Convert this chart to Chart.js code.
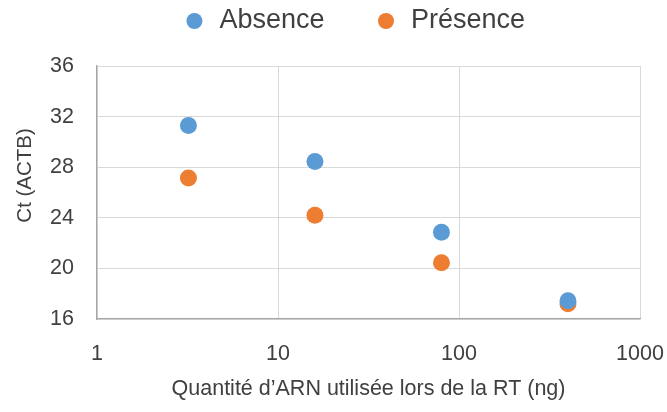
<!DOCTYPE html>
<html><head><meta charset="utf-8">
<script src="https://cdn.jsdelivr.net/npm/chart.js@4"></script>
<style>html,body{margin:0;padding:0;background:#fff;} canvas{display:block;}</style>
</head><body>
<canvas id="c" width="667" height="412"></canvas>
<script>
const xValues = [3.2, 16, 80, 400];
const absence = [31.3, 28.45, 22.85, 17.45];
const presence = [27.15, 24.2, 20.45, 17.2];
const seriesNames = ['Absence', 'Présence'];
const seriesColors = ['#5B9BD5', '#ED7D31'];
const xTicks = [1, 10, 100, 1000];
const yTicks = [16, 20, 24, 28, 32, 36];
const xTitle = 'Quantité d’ARN utilisée lors de la RT (ng)';
const yTitle = 'Ct (ACTB)';

const FONT = "'Liberation Sans', Arial, sans-serif";
const TEXT = '#404040';
const toPoints = ys => xValues.map((x, i) => ({ x: x, y: ys[i] }));

// place the legend row like the original (centered at x≈354, y≈21)
const legendPlace = {
  id: 'legendPlace',
  afterLayout(chart) {
    const l = chart.legend;
    if (!l) return;
    const dx = 354 - (l.left + l.right) / 2;
    l.left += dx; l.right += dx;
    l.top -= 21.5; l.bottom -= 21.5;
  }
};

const mk = (i, ys) => ({
  label: seriesNames[i], data: toPoints(ys),
  backgroundColor: seriesColors[i], borderColor: seriesColors[i],
  pointRadius: 8.5, pointHoverRadius: 8.5, pointBorderWidth: 0, showLine: false
});

new Chart(document.getElementById('c'), {
  type: 'scatter',
  data: { datasets: [mk(0, absence), mk(1, presence)] },
  plugins: [legendPlace],
  options: {
    responsive: false, animation: false, devicePixelRatio: 1,
    layout: { padding: { top: -21, left: 0, right: 27, bottom: 0 } },
    plugins: {
      legend: {
        position: 'top',
        labels: { usePointStyle: true, pointStyle: 'circle', boxWidth: 23, boxHeight: 11.3,
          padding: 50, color: TEXT, font: { family: FONT, size: 27 } }
      },
      tooltip: { enabled: false }
    },
    scales: {
      x: {
        type: 'logarithmic', min: 1, max: 1000,
        afterBuildTicks: s => { s.ticks = xTicks.map(v => ({ value: v })); },
        afterFit: s => { s.paddingRight = 24; },
        ticks: { callback: v => String(v), padding: 22, color: TEXT, font: { family: FONT, size: 21.5 }, maxRotation: 0, autoSkip: false },
        grid: { color: '#D9D9D9', lineWidth: 1, drawTicks: false },
        border: { color: '#A6A6A6', width: 1.3 },
        title: { display: true, text: xTitle, color: TEXT, font: { family: FONT, size: 21.5 }, padding: { top: -12.6, bottom: 10 } }
      },
      y: {
        min: 16, max: 36,
        afterBuildTicks: s => { s.ticks = yTicks.map(v => ({ value: v })); },
        ticks: { padding: 23, color: TEXT, font: { family: FONT, size: 21.5 } },
        grid: { color: '#D9D9D9', lineWidth: 1, drawTicks: false },
        border: { color: '#A6A6A6', width: 1.3 },
        title: { display: true, text: '      ' + yTitle, color: TEXT, font: { family: FONT, size: 20.5 }, padding: { top: 12.7, bottom: -10.2 } }
      }
    }
  }
});
</script>
</body></html>
